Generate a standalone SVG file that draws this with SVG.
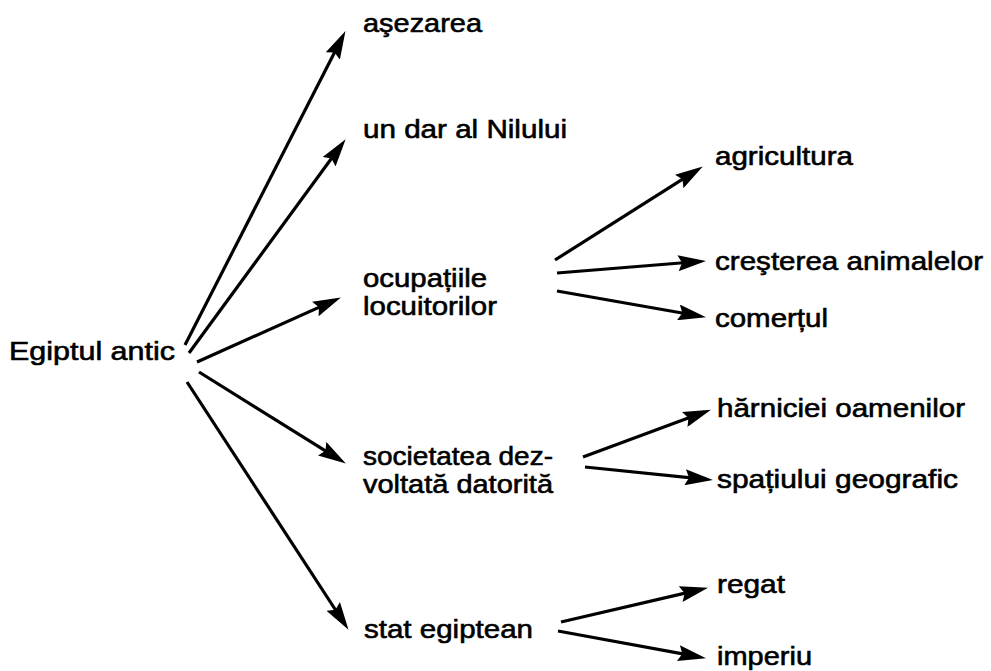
<svg xmlns="http://www.w3.org/2000/svg" width="991" height="671" viewBox="0 0 991 671">
<style>
text { font-family: "Liberation Sans", Arial, sans-serif; font-size: 26px; fill: #000; stroke: #000; stroke-width: 0.6px; }
.c line { stroke: #000; stroke-width: 3.2; marker-end: url(#ah); }
</style>
<defs>
<marker id="ah" markerUnits="userSpaceOnUse" markerWidth="28" markerHeight="16" refX="21" refY="8" orient="auto">
<path d="M0,0 L28,8 L0,16 L4,8 z" fill="#000"/>
</marker>
</defs>
<rect width="991" height="671" fill="#fff"/>
<g id="connectors" class="c">
<line x1="185" y1="345" x2="342.3" y2="37.3"/>
<line x1="189" y1="353" x2="341.5" y2="144.8"/>
<line x1="197" y1="362" x2="334.5" y2="300.4"/>
<line x1="199" y1="372" x2="339.9" y2="459.8"/>
<line x1="187" y1="382" x2="344.7" y2="624"/>
<line x1="555" y1="260" x2="696.9" y2="170.2"/>
<line x1="557" y1="273" x2="699" y2="261.5"/>
<line x1="557" y1="291" x2="699.1" y2="316"/>
<line x1="583" y1="457" x2="704.4" y2="412.1"/>
<line x1="585" y1="467" x2="706" y2="479.4"/>
<line x1="561" y1="622" x2="701.2" y2="589.4"/>
<line x1="558" y1="631" x2="699.1" y2="656.9"/>
</g>
<g id="n-egipt"><text x="9" y="360" textLength="166" lengthAdjust="spacingAndGlyphs">Egiptul antic</text></g>
<g id="n-asezarea"><text x="363" y="32" textLength="119" lengthAdjust="spacingAndGlyphs">aşezarea</text></g>
<g id="n-dar"><text x="363" y="138" textLength="204" lengthAdjust="spacingAndGlyphs">un dar al Nilului</text></g>
<g id="n-ocupatii">
<text x="363" y="287" textLength="124" lengthAdjust="spacingAndGlyphs">ocupațiile</text>
<text x="363" y="315" textLength="134" lengthAdjust="spacingAndGlyphs">locuitorilor</text>
</g>
<g id="n-societatea">
<text x="363" y="465" textLength="190" lengthAdjust="spacingAndGlyphs">societatea dez-</text>
<text x="363" y="493" textLength="190" lengthAdjust="spacingAndGlyphs">voltată datorită</text>
</g>
<g id="n-stat"><text x="364" y="638" textLength="169" lengthAdjust="spacingAndGlyphs">stat egiptean</text></g>
<g id="n-agricultura"><text x="715" y="165" textLength="138" lengthAdjust="spacingAndGlyphs">agricultura</text></g>
<g id="n-cresterea"><text x="715" y="270" textLength="268" lengthAdjust="spacingAndGlyphs">creşterea animalelor</text></g>
<g id="n-comertul"><text x="715" y="327" textLength="113" lengthAdjust="spacingAndGlyphs">comerțul</text></g>
<g id="n-harniciei"><text x="717" y="417" textLength="248" lengthAdjust="spacingAndGlyphs">hărniciei oamenilor</text></g>
<g id="n-spatiului"><text x="717" y="488" textLength="241" lengthAdjust="spacingAndGlyphs">spațiului geografic</text></g>
<g id="n-regat"><text x="717" y="593" textLength="68" lengthAdjust="spacingAndGlyphs">regat</text></g>
<g id="n-imperiu"><text x="717" y="665" textLength="95" lengthAdjust="spacingAndGlyphs">imperiu</text></g>
</svg>
